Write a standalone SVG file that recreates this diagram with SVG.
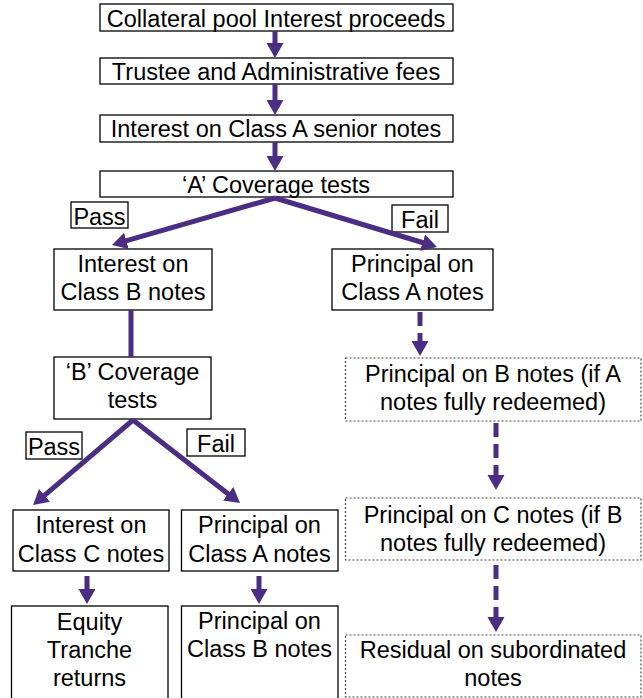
<svg xmlns="http://www.w3.org/2000/svg" width="643" height="698" viewBox="0 0 643 698">
<style>
.box{fill:#fff;stroke:#000;stroke-width:1.3}
.dot{fill:#fff;stroke:#444;stroke-width:1.2;stroke-dasharray:2,2}
text{font-family:"Liberation Sans",Arial,sans-serif;font-size:23.5px;fill:#000;text-anchor:middle}
.c{stroke:#4B2D83;stroke-width:5;fill:none}
.d{stroke:#4B2D83;stroke-width:5;fill:none;stroke-dasharray:14,7}
</style>
<defs>
<marker id="ah" markerUnits="userSpaceOnUse" markerWidth="18" markerHeight="18" refX="5" refY="8.5" orient="auto" viewBox="0 0 18 18">
<path d="M0,0 L15,8.5 L0,17 z" fill="#4B2D83"/>
</marker>
</defs>
<g id="n1"><rect class="box" x="100" y="4" width="353" height="27"/><text x="276" y="26.5">Collateral pool Interest proceeds</text></g>
<g id="n2"><rect class="box" x="100" y="58" width="353" height="26"/><text x="276" y="80">Trustee and Administrative fees</text></g>
<g id="n3"><rect class="box" x="100" y="115" width="353" height="27"/><text x="276" y="137">Interest on Class A senior notes</text></g>
<g id="n4"><rect class="box" x="100" y="171" width="353" height="26"/><text x="276" y="193">‘A’ Coverage tests</text></g>
<g id="passA"><rect class="box" x="71" y="202" width="57" height="26"/><text x="99.5" y="225">Pass</text></g>
<g id="failA"><rect class="box" x="392" y="205" width="56" height="27"/><text x="420" y="228">Fail</text></g>
<g id="n5"><rect class="box" x="54" y="249" width="158" height="61"/><text x="133" y="272">Interest on</text><text x="133" y="300">Class B notes</text></g>
<g id="n6"><rect class="box" x="332" y="249" width="161" height="61"/><text x="412.5" y="272">Principal on</text><text x="412.5" y="300">Class A notes</text></g>
<g id="n7"><rect class="box" x="54" y="357" width="157" height="62"/><text x="132.5" y="380">‘B’ Coverage</text><text x="132.5" y="408">tests</text></g>
<g id="passB"><rect class="box" x="26" y="432" width="56" height="27"/><text x="54" y="455">Pass</text></g>
<g id="failB"><rect class="box" x="187" y="429" width="58" height="27"/><text x="216" y="452">Fail</text></g>
<g id="n8"><rect class="dot" x="345.5" y="358" width="295.5" height="63"/><text x="493" y="382">Principal on B notes (if A</text><text x="493" y="410">notes fully redeemed)</text></g>
<g id="n9"><rect class="dot" x="345.5" y="498" width="295.5" height="62"/><text x="493" y="523">Principal on C notes (if B</text><text x="493" y="551">notes fully redeemed)</text></g>
<g id="n10"><rect class="box" x="13" y="510" width="156" height="61"/><text x="91" y="533">Interest on</text><text x="91" y="562">Class C notes</text></g>
<g id="n11"><rect class="box" x="181.5" y="510" width="156.5" height="61"/><text x="259.5" y="533">Principal on</text><text x="259.5" y="562">Class A notes</text></g>
<g id="n12"><rect class="box" x="11.5" y="606" width="156.5" height="100"/><text x="89.5" y="630">Equity</text><text x="89.5" y="658">Tranche</text><text x="89.5" y="686">returns</text></g>
<g id="n13"><rect class="box" x="181.5" y="606" width="156.5" height="100"/><text x="259.5" y="629">Principal on</text><text x="259.5" y="657">Class B notes</text></g>
<g id="n14"><rect class="dot" x="345.5" y="635" width="295.5" height="62"/><text x="493" y="658">Residual on subordinated</text><text x="493" y="686">notes</text></g>
<g id="connectors">
<line class="c" x1="275" y1="31" x2="275" y2="48" marker-end="url(#ah)"/>
<line class="c" x1="275" y1="84" x2="275" y2="105" marker-end="url(#ah)"/>
<line class="c" x1="275" y1="142" x2="275" y2="161" marker-end="url(#ah)"/>
<line class="c" x1="275" y1="198" x2="121.6" y2="242.2" marker-end="url(#ah)"/>
<line class="c" x1="275" y1="198" x2="427.4" y2="244" marker-end="url(#ah)"/>
<line class="c" x1="131" y1="310" x2="131" y2="357"/>
<line class="c" x1="133" y1="420" x2="40.7" y2="498.6" marker-end="url(#ah)"/>
<line class="c" x1="133" y1="420" x2="232.1" y2="496.9" marker-end="url(#ah)"/>
<line class="d" x1="420" y1="312" x2="420" y2="346" marker-end="url(#ah)"/>
<line class="d" x1="496" y1="423" x2="496" y2="480" marker-end="url(#ah)"/>
<line class="d" x1="496" y1="565" x2="496" y2="622" marker-end="url(#ah)"/>
<line class="c" x1="87" y1="576" x2="87" y2="594" marker-end="url(#ah)"/>
<line class="c" x1="259" y1="576" x2="259" y2="594" marker-end="url(#ah)"/>
</g>
</svg>
